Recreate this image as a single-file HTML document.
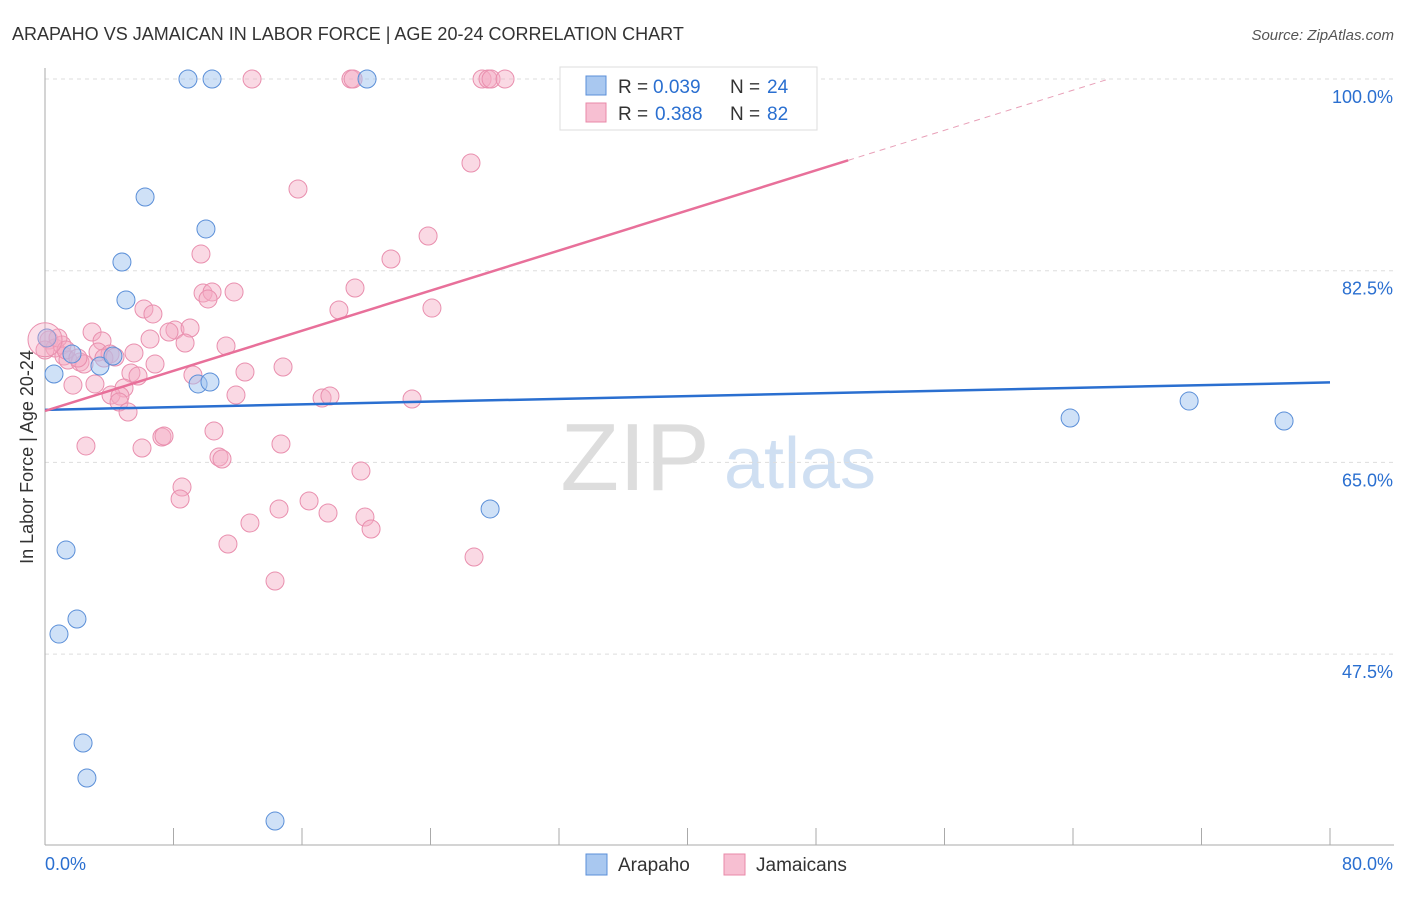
<!DOCTYPE html>
<html><head><meta charset="utf-8"><style>
body{margin:0;background:#fff;font-family:"Liberation Sans",sans-serif}
svg text{font-family:"Liberation Sans",sans-serif}
</style></head><body>
<svg id="c" width="1406" height="892">
<text x="12" y="40" font-size="18" fill="#333">ARAPAHO VS JAMAICAN IN LABOR FORCE | AGE 20-24 CORRELATION CHART</text>
<text x="1394" y="40" font-size="15" fill="#555" font-style="italic" text-anchor="end">Source: ZipAtlas.com</text>
<text transform="translate(33,457) rotate(-90)" font-size="18" fill="#333" text-anchor="middle">In Labor Force | Age 20-24</text>
<g><text x="635" y="490" font-size="96" fill="#ddd" font-family="Liberation Serif" text-anchor="middle">ZIP</text><text x="800" y="488" font-size="72" fill="#cfdff2" text-anchor="middle">atlas</text></g>
<g id="grid"></g><g id="pts"></g><g id="lines"></g>
<g>
<rect x="560" y="67" width="257" height="63" fill="#fff" stroke="#ddd"/>
<rect x="586" y="76" width="20" height="19" fill="#a9c8f0" stroke="#5b8fd8"/>
<rect x="586" y="103" width="20" height="19" fill="#f7bfd2" stroke="#e88aa8"/>
<text x="618" y="93" font-size="19" fill="#333">R = </text><text x="653" y="93" font-size="19" fill="#2a6fd0">0.039</text>
<text x="730" y="93" font-size="19" fill="#333">N = </text><text x="767" y="93" font-size="19" fill="#2a6fd0">24</text>
<text x="618" y="120" font-size="19" fill="#333">R = </text><text x="655" y="120" font-size="19" fill="#2a6fd0">0.388</text>
<text x="730" y="120" font-size="19" fill="#333">N = </text><text x="767" y="120" font-size="19" fill="#2a6fd0">82</text>
</g>
<g>
<rect x="586" y="854" width="21" height="21" fill="#a9c8f0" stroke="#5b8fd8"/>
<text x="618" y="871" font-size="19" fill="#333">Arapaho</text>
<rect x="724" y="854" width="21" height="21" fill="#f7bfd2" stroke="#e88aa8"/>
<text x="756" y="871" font-size="19" fill="#333">Jamaicans</text>
</g>
</svg>
<script>
const blueX=[8.90,10.40,20.05,6.23,10.02,4.79,5.04,0.12,0.56,1.68,3.42,4.23,9.53,10.27,1.31,1.99,0.87,2.37,2.61,14.32,27.71,63.82,71.23,77.14];
const blueY=[100,100,100,89.23,86.31,83.29,79.83,76.36,73.07,74.90,73.80,74.71,72.16,72.34,57.0,50.7,49.33,39.38,36.19,32.26,60.75,69.05,70.60,68.78];
const pinkX=[12.89,19.05,19.18,27.21,27.58,27.77,28.64,26.52,15.75,23.85,9.71,21.54,19.30,9.84,10.40,11.77,10.15,18.30,6.16,6.72,24.09,2.93,8.09,9.03,7.72,8.72,3.55,6.54,11.27,0.25,0.62,1.06,1.18,1.43,2.18,2.43,3.30,4.05,5.54,6.85,5.35,5.79,12.45,14.82,1.74,3.11,4.92,4.11,4.67,4.61,5.17,11.89,9.21,17.25,17.74,22.85,10.52,2.55,6.04,7.28,7.41,10.83,11.02,14.69,19.67,8.53,8.41,16.44,17.62,14.57,12.76,19.92,20.30,11.39,26.71,14.32,0.81,0,1.31,2.05,3.67,4.36];
const pinkY=[100,100,100,100,100,100,100,92.33,89.96,85.67,84.02,83.57,80.92,80.46,80.56,80.56,79.92,78.91,79.0,78.55,79.09,76.90,77.09,77.27,76.90,75.90,76.08,76.26,75.63,76.17,75.44,75.72,74.71,74.35,74.16,73.98,75.08,74.90,74.99,73.98,73.16,72.89,73.25,73.71,72.06,72.16,71.79,71.15,71.06,70.51,69.60,71.15,72.98,70.88,71.06,70.79,67.87,66.50,66.31,67.32,67.41,65.49,65.31,66.68,64.21,62.75,61.66,61.48,60.38,60.75,59.47,60.01,58.92,57.55,56.36,54.17,76.36,75.26,75.26,74.53,74.53,74.62];
const yTicks=[100,82.5,65,47.5];
const blueFit=[69.8,72.3];
const pinkFit=[69.7,106.3];
const NS="http://www.w3.org/2000/svg";
const xs=v=>45+v/80*1285;
const ys=v=>79+(100-v)/17.5*191.7;
function mk(t,a,p){const e=document.createElementNS(NS,t);for(const k in a)e.setAttribute(k,a[k]);p.appendChild(e);return e;}
const grid=document.getElementById('grid');
yTicks.forEach(t=>{
 const l=mk('line',{x1:45,x2:1394,y1:ys(t),y2:ys(t),stroke:'#ddd','stroke-dasharray':'4,4'},grid);
 
 
 const tx=mk('text',{x:1393,y:ys(t)+24,'font-size':18,fill:'#2a6fd0','text-anchor':'end'},grid);
 tx.textContent=t.toFixed(1)+'%';
 
 
});
mk('line',{x1:45,x2:45,y1:68,y2:845,stroke:'#aaa'},grid);
mk('line',{x1:45,x2:1394,y1:845,y2:845,stroke:'#aaa'},grid);
for(let i=0;i<=10;i++){const x=xs(i*8);mk('line',{x1:x,x2:x,y1:828,y2:845,stroke:'#aaa'},grid);}
const xl=mk('text',{x:45,y:870,'font-size':18,fill:'#2a6fd0'},grid);xl.textContent='0.0%';


const xr=mk('text',{x:1393,y:870,'font-size':18,fill:'#2a6fd0','text-anchor':'end'},grid);xr.textContent='80.0%';


const pts=document.getElementById('pts');
pinkX.forEach((x,i)=>{const c=mk('circle',{cx:xs(x),cy:ys(pinkY[i]),r:9,fill:'rgba(245,170,195,0.45)',stroke:'#e98fae','stroke-width':1},pts);
 
 });
blueX.forEach((x,i)=>{const c=mk('circle',{cx:xs(x),cy:ys(blueY[i]),r:9,fill:'rgba(160,195,240,0.5)',stroke:'#5b8fd8','stroke-width':1},pts);
 
 });
const big=mk('circle',{cx:xs(0),cy:ys(76.2),r:17,fill:'rgba(245,170,195,0.35)',stroke:'#e98fae'},pts);


const L=document.getElementById('lines');
const bl=mk('line',{x1:xs(0),y1:ys(blueFit[0]),x2:xs(80),y2:ys(blueFit[1]),stroke:'#2a6fd0','stroke-width':2.5},L);


const pf=x=>pinkFit[0]+(pinkFit[1]-pinkFit[0])*x/80;
const xEnd=(100-pinkFit[0])/(pinkFit[1]-pinkFit[0])*80;
const pl=mk('line',{x1:xs(0),y1:ys(pf(0)),x2:xs(50),y2:ys(pf(50)),stroke:'#e8709a','stroke-width':2.5},L);


const pd=mk('line',{x1:xs(50),y1:ys(pf(50)),x2:xs(xEnd),y2:ys(100),stroke:'#e8a0b8','stroke-width':1,'stroke-dasharray':'6,5'},L);


</script>
</body></html>
